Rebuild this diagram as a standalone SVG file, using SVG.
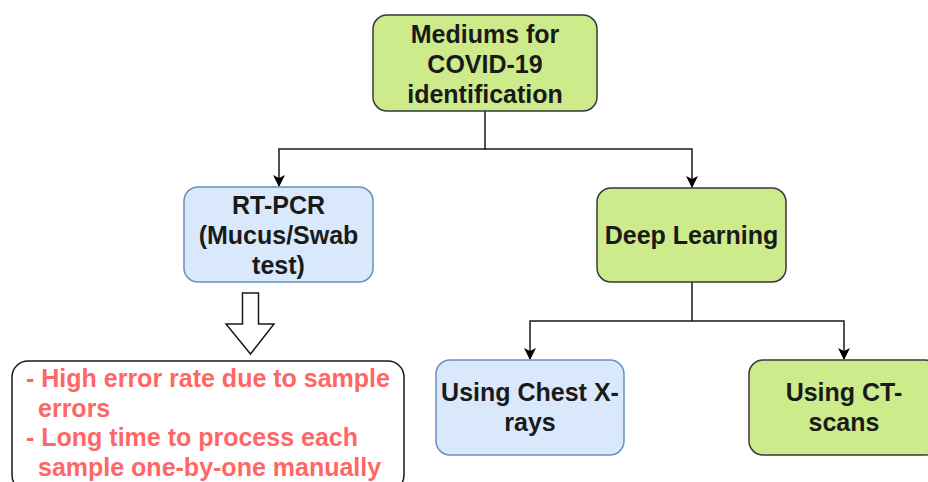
<svg xmlns="http://www.w3.org/2000/svg" width="928" height="482" viewBox="0 0 928 482">
  <style>
    .green { fill: #cdeb8b; stroke: #36393d; stroke-width: 1.5; }
    .blue { fill: #dae8fc; stroke: #6c8ebf; stroke-width: 1.5; }
    .label { font-family: "Liberation Sans", Arial, sans-serif; font-size: 25px; font-weight: bold; fill: #1a1a1a; text-anchor: middle; }
    .note { font-family: "Liberation Sans", Arial, sans-serif; font-size: 25px; font-weight: bold; fill: #ff6666; }
    .edge { fill: none; stroke: #1a1a1a; stroke-width: 1.5; }
  </style>
  <defs>
    <marker id="arrow" viewBox="0 0 12 12" refX="11" refY="6" markerWidth="12" markerHeight="12" markerUnits="userSpaceOnUse" orient="auto">
      <path d="M0,0 L12,6 L0,12 L3,6 Z" fill="#000"/>
    </marker>
  </defs>

  <rect width="928" height="482" fill="#ffffff"/>

  <!-- connectors -->
  <g id="connectors">
    <path class="edge" d="M485,111 V149 H279 V186" marker-end="url(#arrow)"/>
    <path class="edge" d="M485,149 H692 V187" marker-end="url(#arrow)"/>
    <path class="edge" d="M692,282 V321 H530 V359" marker-end="url(#arrow)"/>
    <path class="edge" d="M692,321 H844 V359" marker-end="url(#arrow)"/>
    <!-- hollow block arrow -->
    <path d="M242.5,293 H258.5 V324 H274 L250.5,354 L226,324 H242.5 Z" fill="#ffffff" stroke="#1a1a1a" stroke-width="1.5" stroke-linejoin="miter"/>
  </g>

  <g id="root">
    <rect class="green" x="373" y="15" width="224" height="96" rx="14"/>
    <text class="label" x="485" y="43">Mediums for</text>
    <text class="label" x="485" y="73">COVID-19</text>
    <text class="label" x="485" y="103">identification</text>
  </g>

  <g id="rtpcr">
    <rect class="blue" x="184" y="187" width="189" height="95" rx="14"/>
    <text class="label" x="278.5" y="214">RT-PCR</text>
    <text class="label" x="278.5" y="244">(Mucus/Swab</text>
    <text class="label" x="278.5" y="274">test)</text>
  </g>

  <g id="deep-learning">
    <rect class="green" x="597" y="188" width="189" height="94" rx="14"/>
    <text class="label" x="691.5" y="244">Deep Learning</text>
  </g>

  <g id="drawbacks">
    <rect x="12" y="361" width="392" height="130" rx="16" fill="#ffffff" stroke="#1a1a1a" stroke-width="1.5"/>
    <text class="note" x="26" y="387">- High error rate due to sample</text>
    <text class="note" x="38" y="416.5">errors</text>
    <text class="note" x="26" y="446">- Long time to process each</text>
    <text class="note" x="38" y="476">sample one-by-one manually</text>
  </g>

  <g id="chest-xrays">
    <rect class="blue" x="436" y="360" width="188" height="95" rx="14"/>
    <text class="label" x="530" y="401">Using Chest X-</text>
    <text class="label" x="530" y="431">rays</text>
  </g>

  <g id="ct-scans">
    <rect class="green" x="749" y="360" width="190" height="95" rx="14"/>
    <text class="label" x="844" y="401">Using CT-</text>
    <text class="label" x="844" y="431">scans</text>
  </g>
</svg>
